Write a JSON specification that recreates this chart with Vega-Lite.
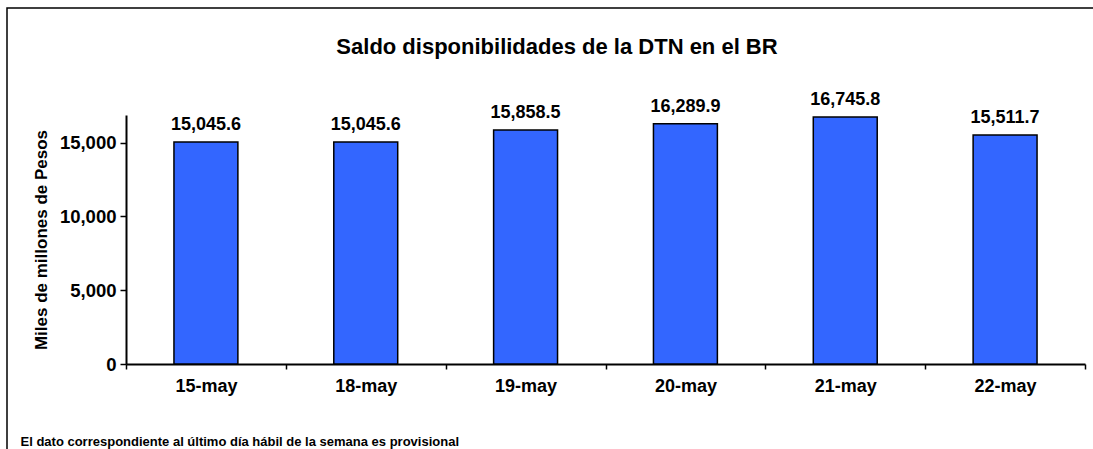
{
  "$schema": "https://vega.github.io/schema/vega-lite/v6.json",
  "autosize": "none",
  "width": 1100,
  "height": 450,
  "padding": {"left": 7, "top": 8, "right": 0, "bottom": 0},
  "background": "white",
  "config": {
    "view": {"stroke": "black", "strokeWidth": 1.5},
    "font": "Liberation Sans"
  },
  "title": {
    "text": "Saldo disponibilidades de la DTN en el BR",
    "orient": "top",
    "anchor": "middle",
    "frame": "group",
    "baseline": "alphabetic",
    "offset": 0,
    "dy": 68,
    "font": "Liberation Sans",
    "fontSize": 22,
    "fontWeight": "bold",
    "color": "black"
  },
  "data": {
    "values": [
      {"fecha": "15-may", "saldo": 15045.6},
      {"fecha": "18-may", "saldo": 15045.6},
      {"fecha": "19-may", "saldo": 15858.5},
      {"fecha": "20-may", "saldo": 16289.9},
      {"fecha": "21-may", "saldo": 16745.8},
      {"fecha": "22-may", "saldo": 15511.7}
    ]
  },
  "encoding": {
    "x": {
      "field": "fecha",
      "type": "nominal",
      "sort": null,
      "scale": {"range": [119, 1078], "paddingInner": 0, "paddingOuter": 0},
      "axis": {
        "title": "El dato correspondiente al último día hábil de la semana es provisional",
        "titleFont": "Liberation Sans",
        "titleFontSize": 13,
        "titleFontWeight": "bold",
        "titleColor": "black",
        "titleAnchor": "start",
        "titleAlign": "left",
        "titleBaseline": "alphabetic",
        "titleX": 13,
        "titleY": 81,
        "offset": -94,
        "labelAngle": 0,
        "labelFont": "Liberation Sans",
        "labelFontSize": 18,
        "labelFontWeight": "bold",
        "labelColor": "black",
        "labelPadding": 8,
        "tickBand": "extent",
        "tickSize": 5,
        "tickColor": "black",
        "tickWidth": 1.5,
        "domainColor": "black",
        "domainWidth": 2,
        "grid": false
      }
    },
    "y": {
      "field": "saldo",
      "type": "quantitative",
      "scale": {"domain": [0, 16875], "nice": false, "range": [356, 107], "zero": true},
      "axis": {
        "title": "Miles de millones de Pesos",
        "titleFont": "Liberation Sans",
        "titleFontSize": 17,
        "titleFontWeight": "bold",
        "titleColor": "black",
        "titleBaseline": "alphabetic",
        "titleX": -80,
        "offset": -119,
        "values": [0, 5000, 10000, 15000],
        "format": ",d",
        "labelFont": "Liberation Sans",
        "labelFontSize": 18.5,
        "labelFontWeight": "bold",
        "labelColor": "black",
        "labelPadding": 4,
        "tickSize": 6,
        "tickColor": "black",
        "tickWidth": 1.5,
        "domainColor": "black",
        "domainWidth": 2,
        "grid": false
      }
    }
  },
  "layer": [
    {
      "mark": {"type": "bar", "width": {"band": 0.4}, "color": "#3366FF", "stroke": "black", "strokeWidth": 1.5}
    },
    {
      "mark": {"type": "text", "baseline": "alphabetic", "dy": -12, "font": "Liberation Sans", "fontSize": 18, "fontWeight": "bold", "color": "black"},
      "encoding": {"text": {"field": "saldo", "type": "quantitative", "format": ",.1f"}}
    }
  ]
}
